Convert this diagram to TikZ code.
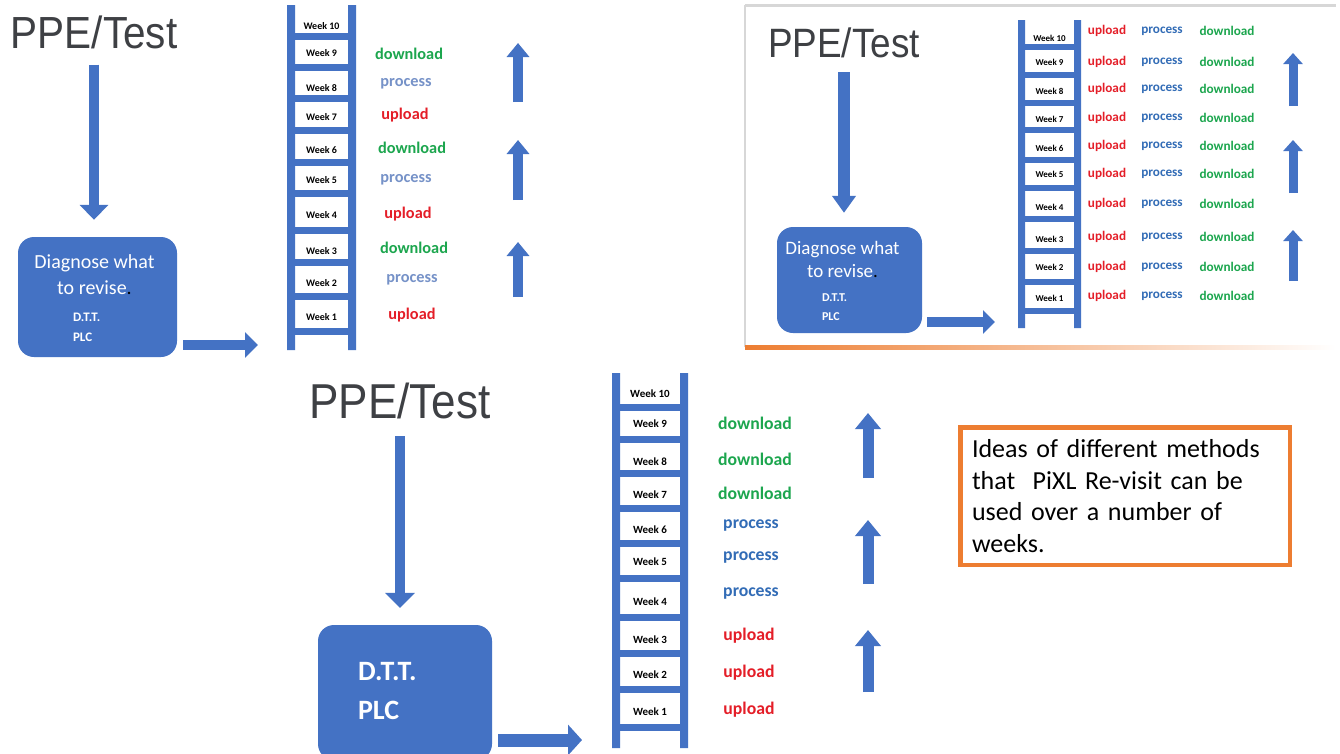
\documentclass[tikz,border=0pt]{standalone}
\usepackage{fontspec}
\setmainfont{Carlito}
\newfontfamily\ppefont[FakeStretch=0.9]{Liberation Sans}
\usetikzlibrary{arrows.meta,calc}

\definecolor{ladder}{RGB}{68,114,196}
\definecolor{upred}{RGB}{228,30,40}
\definecolor{procblue}{RGB}{50,108,182}
\definecolor{procpale}{RGB}{118,146,200}
\definecolor{downgreen}{RGB}{28,166,78}
\definecolor{titlegray}{RGB}{62,64,68}
\definecolor{noteorange}{RGB}{237,125,49}
\definecolor{framegray}{RGB}{215,215,215}

\begin{document}
\begin{tikzpicture}[
  x=1pt,y=-1pt,
  ppetitle/.style={font=\ppefont\fontsize{#1}{#1}\selectfont,text=titlegray,inner sep=0pt},
  bluebox/.style={fill=ladder,rounded corners=16pt,inner sep=0pt},
  boxtext/.style={text=white,inner sep=0pt},
  blockarrow/.style n args={3}{draw=ladder,line width=#1,-{Triangle[width=#2,length=#3]}},
  weeklbl/.style={font=\bfseries\fontsize{#1}{#1}\selectfont,inner sep=0pt},
  actlbl/.style={font=\bfseries\fontsize{#1}{#1}\selectfont,inner sep=0pt},
  notebox/.style={draw=noteorange,line width=4.5pt,text width=306pt,align=left,
    minimum width=329.5pt,minimum height=137.5pt,font=\fontsize{26}{31.5}\selectfont}
]
\fill[white] (0,0) rectangle (1340,753);
\useasboundingbox (0,0) rectangle (1340,753);

% Frame of the copied slide, top right.
\draw[framegray,line width=3pt] (745,5) -- (1336,5);
\draw[framegray,line width=1.2pt] (745,5) -- (745,347);
\shade[left color=noteorange,middle color=noteorange!60,right color=white]
  (745,345.5) rectangle (1336,349);

% Top left: titles, diagnose box, arrows.
\node[ppetitle=45] (ppeA) at (94,32) {PPE/Test};
\node[bluebox,minimum width=159pt,minimum height=120pt] (diagA) at (97.5,297) {};
\node[boxtext,align=center,font=\fontsize{20}{26}\selectfont] at ($(diagA.north)+(-3,38)$)
  {Diagnose what\\to revise{\color{black}.}};
\node[boxtext,align=left,anchor=west,font=\bfseries\fontsize{13}{20}\selectfont]
  at ($(diagA.north west)+(55,91)$) {D.T.T.\\PLC};
\draw[blockarrow={10pt}{28pt}{15pt},shorten <=16pt,shorten >=17pt]
  (ppeA.south) -- (ppeA.south |- diagA.north);
\coordinate (inA) at (258,345);
\draw[blockarrow={10pt}{25pt}{13pt},shorten <=6pt] (diagA.east |- inA) -- (inA);

% Ladder A
\fill[ladder] (287,5) rectangle (295,350) (348,5) rectangle (356,350);
\foreach \y in {36,67,98,130,162,193,230,262,296,331}
  \fill[ladder] (295,\y-3.5) rectangle (348,\y+3.5);
\foreach \y [count=\i] in {317,283,251,215,180,150,117,88,53,26}
  \node[weeklbl=10] (wkA\i) at (321.5,\y) {Week \i};
\foreach \t/\c/\x/\y [count=\i] in {upload/upred/412/315,process/procpale/412/280,
    download/downgreen/414/248,upload/upred/408/214,process/procpale/406/180,
    download/downgreen/412/148,upload/upred/405/115,process/procpale/406/84,
    download/downgreen/409/54}
  \node[actlbl=16.3,text=\c] (actA\i) at (\x,\y) {\t};
\foreach \ya/\yb in {102/43,200/140,297/242}
  \draw[blockarrow={10pt}{22pt}{14pt}] (518,\ya) -- (518,\yb);

% Top right: the same plan, every step each week.
\node[ppetitle=41] (ppeB) at (844,43) {PPE/Test};
\node[bluebox,minimum width=145pt,minimum height=106pt] (diagB) at (849.5,280) {};
\node[boxtext,align=center,font=\fontsize{19}{23}\selectfont] at ($(diagB.north)+(-7,32.5)$)
  {Diagnose what\\to revise{\color{black}.}};
\node[boxtext,align=left,anchor=west,font=\bfseries\fontsize{12}{19}\selectfont]
  at ($(diagB.north west)+(45,80.5)$) {D.T.T.\\PLC};
\draw[blockarrow={12pt}{23pt}{17pt},shorten <=14pt,shorten >=14pt]
  (ppeB.south) -- (ppeB.south |- diagB.north);
\coordinate (inB) at (995,322);
\draw[blockarrow={10pt}{23pt}{12pt},shorten <=5pt] (diagB.east |- inB) -- (inB);

% Ladder B
\fill[ladder] (1018,20) rectangle (1025,328) (1074,20) rectangle (1081,328);
\foreach \y in {47,75,103,130,160,188,219,251,282,311}
  \fill[ladder] (1025,\y-3) rectangle (1074,\y+3);
\foreach \y [count=\i] in {298,267,239,207,174,148,119,91,62,38}
  \node[weeklbl=9] (wkB\i) at (1049.5,\y) {Week \i};
\foreach \y [count=\i] in {296,267,237,204,174,146,118,89,62,31} {
  \node[actlbl=13.2,text=upred] (upB\i) at (1107,\y) {upload};
  \node[actlbl=13.2,text=procblue] (prB\i) at (1162,\y) {process};
  \node[actlbl=13.2,text=downgreen] (dnB\i) at (1227,\y) {download};
}
\foreach \ya/\yb in {106/53,193/140,281/230}
  \draw[blockarrow={9pt}{19pt}{11pt}] (1293,\ya) -- (1293,\yb);

% Bottom: three weeks of each step.
\node[ppetitle=49] (ppeC) at (400,401) {PPE/Test};
\node[bluebox,minimum width=174pt,minimum height=135pt] (diagC) at (405,692.5) {};
\node[boxtext,align=left,anchor=west,font=\bfseries\fontsize{28}{39}\selectfont]
  at ($(diagC.north west)+(40,66.5)$) {D.T.T.\\PLC};
\draw[blockarrow={10pt}{29pt}{15pt},shorten <=17pt,shorten >=17pt]
  (ppeC.south) -- (ppeC.south |- diagC.north);
\coordinate (inC) at (582,740);
\draw[blockarrow={13pt}{30pt}{14pt},shorten <=6pt] (diagC.east |- inC) -- (inC);

% Ladder C
\fill[ladder] (612,373) rectangle (620,748) (680,373) rectangle (688,748);
\foreach \y in {407,439,473,508,543,578,617,653,689,727}
  \fill[ladder] (620,\y-3.5) rectangle (680,\y+3.5);
\foreach \y [count=\i] in {712,675,640,602,562,530,495,462,424,394}
  \node[weeklbl=11] (wkC\i) at (650,\y) {Week \i};
\foreach \t/\c/\x/\y [count=\i] in {upload/upred/749/710,upload/upred/749/673,
    upload/upred/749/636,process/procblue/751/594,process/procblue/751/558,
    process/procblue/751/526,download/downgreen/755/493,download/downgreen/755/459,
    download/downgreen/755/423}
  \node[actlbl=17.7,text=\c] (actC\i) at (\x,\y) {\t};
\foreach \ya/\yb in {478/413,584/520,692/630}
  \draw[blockarrow={11pt}{25pt}{16pt}] (868,\ya) -- (868,\yb);

% Note
\node[notebox] (note) at (1125,496)
  {Ideas of different methods\\that\ \ PiXL Re-visit can be\\used over a number of\\weeks.};
\end{tikzpicture}
\end{document}
